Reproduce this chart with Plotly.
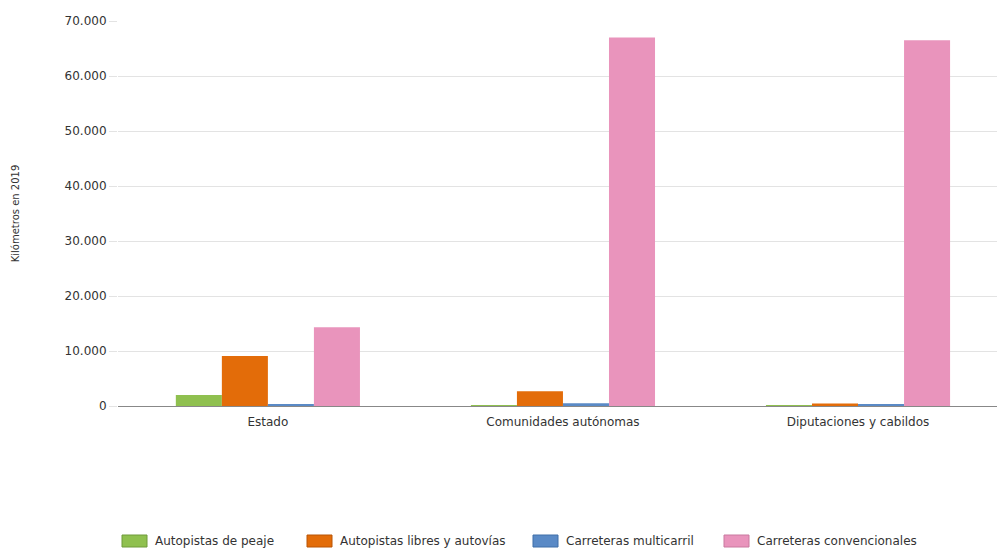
import plotly.graph_objects as go

# Kilómetros de red viaria por titularidad (2019)
categorias = ["Estado", "Comunidades autónomas", "Diputaciones y cabildos"]
series = ["Autopistas de peaje", "Autopistas libres y autovías",
          "Carreteras multicarril", "Carreteras convencionales"]
autopistas_peaje = [2000, 120, 50]
autopistas_libres = [9100, 2700, 450]
multicarril = [370, 520, 300]
convencionales = [14300, 67000, 66500]
valores = [autopistas_peaje, autopistas_libres, multicarril, convencionales]
colores = ["#8fc04f", "#e36c09", "#5a8ac6", "#e994bc"]
bordes = ["#6f9a3a", "#b85506", "#3f6ea8", "#c9789f"]

y_ticks = [0, 10000, 20000, 30000, 40000, 50000, 60000, 70000]
y_ticktext = ["0", "10.000", "20.000", "30.000", "40.000", "50.000", "60.000", "70.000"]

# Geometría del área de trazado (px)
W, H = 997, 549
L, R, T, B = 118, 0, 21, 143
pw, ph = W - L - R, H - T - B

fig = go.Figure()
for nombre, vals, col in zip(series, valores, colores):
    fig.add_trace(go.Bar(x=categorias, y=vals, name=nombre, showlegend=False,
                         marker=dict(color=col, line=dict(width=0))))

# Leyenda inferior con muestras rectangulares
leyenda_x = [122, 307, 533, 724]
leyenda_y = 541
for nombre, col, borde, px in zip(series, colores, bordes, leyenda_x):
    fig.add_shape(type="rect", xref="paper", yref="paper",
                  x0=(px - L) / pw, x1=(px + 25 - L) / pw,
                  y0=(H - B - (leyenda_y + 6)) / ph, y1=(H - B - (leyenda_y - 6)) / ph,
                  fillcolor=col, line=dict(color=borde, width=1))
    fig.add_annotation(xref="paper", yref="paper",
                       x=(px + 31 - L) / pw, y=(H - B - leyenda_y) / ph,
                       xanchor="left", yanchor="middle", showarrow=False,
                       text=nombre, font=dict(size=12, color="#333333"))

fig.update_layout(
    width=W, height=H,
    margin=dict(l=L, r=R, t=T, b=B, autoexpand=False),
    paper_bgcolor="white", plot_bgcolor="white",
    font=dict(family="DejaVu Sans", size=12, color="#333333"),
    barmode="group", bargap=0.376, bargroupgap=0,
    showlegend=False,
)
fig.update_xaxes(
    range=[-0.508, 2.471], automargin=False,
    showline=True, linecolor="#888888", linewidth=1,
    showgrid=False, ticks="outside", ticklen=5, tickcolor="rgba(0,0,0,0)",
    tickfont=dict(size=12, color="#333333"),
)
fig.update_yaxes(
    range=[0, 70000], automargin=False,
    tickvals=y_ticks, ticktext=y_ticktext,
    showgrid=True, gridcolor="#e3e3e3", gridwidth=1,
    zeroline=False, showline=False,
    ticks="outside", ticklen=8, tickcolor="#e3e3e3",
    tickfont=dict(size=12, color="#333333"),
    title=dict(text="Kilómetros en 2019", font=dict(size=10, color="#333333"),
               standoff=43),
)

fig.write_html("out.html")
